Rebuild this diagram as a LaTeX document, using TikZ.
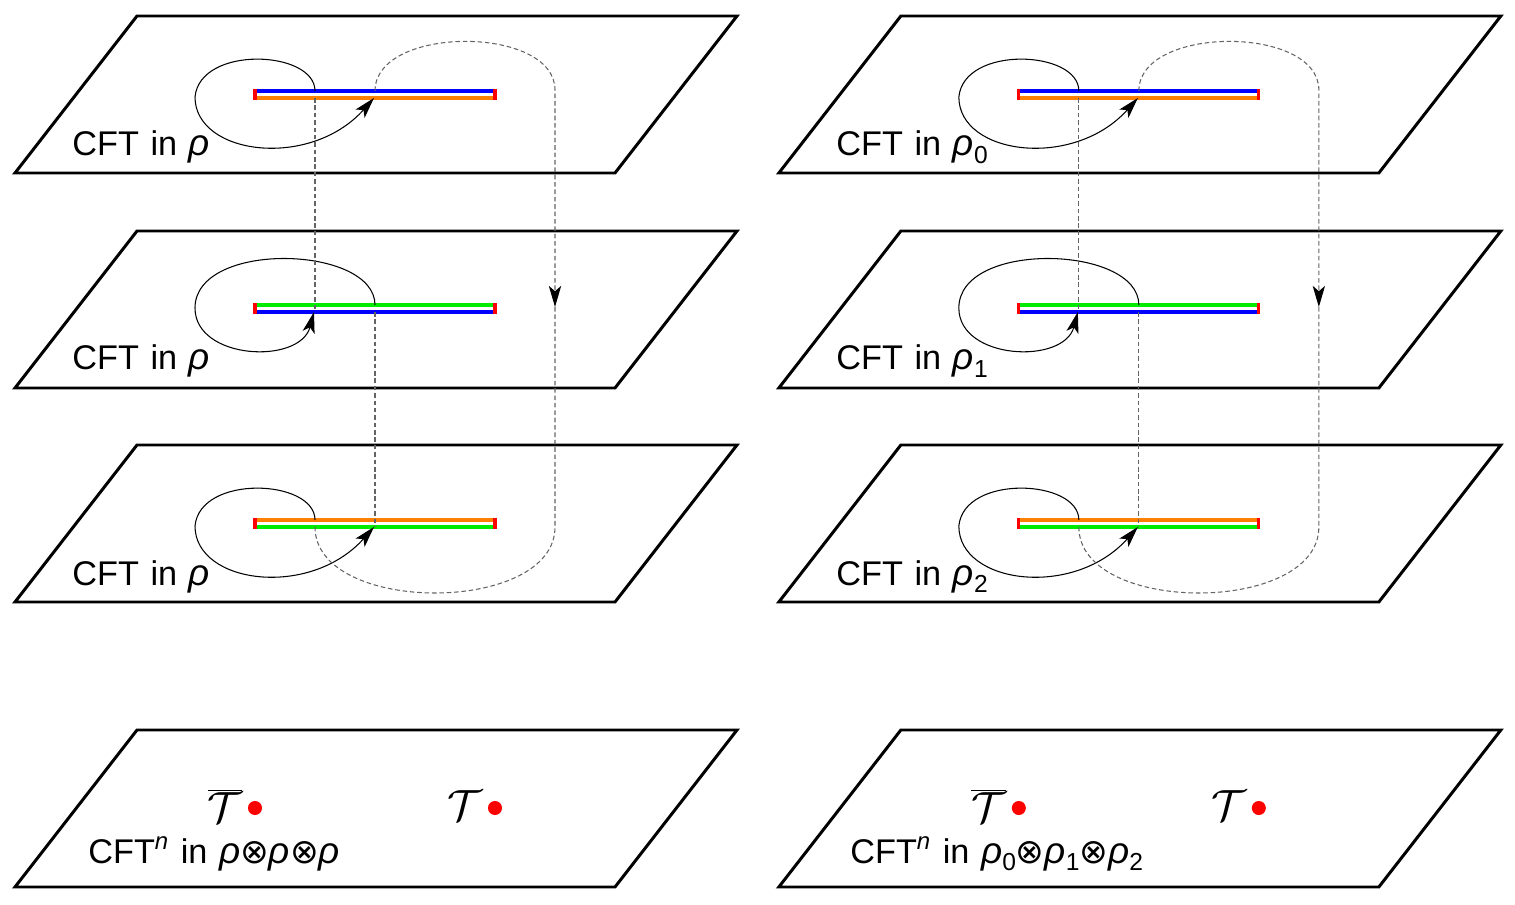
\documentclass[tikz,border=0pt]{standalone}
\usepackage{fontspec}
\setmainfont{Liberation Sans}
\newfontfamily\symfont{DejaVu Sans}
\usetikzlibrary{arrows.meta}
\definecolor{cutblue}{RGB}{0,0,255}
\definecolor{cutorange}{RGB}{255,128,0}
\definecolor{cutgreen}{RGB}{0,235,0}
\definecolor{cutred}{RGB}{255,0,0}
\definecolor{gluegray}{RGB}{100,100,100}
\newcommand\rh{{\fontsize{21}{22}\selectfont\itshape ρ}}
\newcommand\rhoidx[1]{\rh\raisebox{-.4ex}{\fontsize{14}{14}\selectfont #1}}
\newcommand\otim{{\symfont\fontsize{19.5}{22}\selectfont ⊗}}
\begin{document}
\begin{tikzpicture}[x=.02cm,y=-.02cm,
    sheet/.style={line width=1.7pt,line join=miter},
    cutline/.style={line width=1.8pt},
    endcap/.style={line width=1.8pt,draw=cutred},
    loopline/.style={line width=.6pt,-{Stealth[length=12pt,width=7pt,inset=3pt]}},
    gluepath/.style={draw=gluegray,line width=.6pt,dash pattern=on 2.6pt off 1.6pt},
    gluearrow/.style={gluepath,-{Stealth[length=12pt,width=7pt,inset=3pt,color=black]}},
    lbl/.style={anchor=base west,inner sep=0pt,font=\fontsize{19.5}{22}\selectfont,
      execute at begin node={\spaceskip=.34em\relax}},
    twist/.style={inner sep=0pt,font=\fontsize{23}{27}\selectfont}]
  \useasboundingbox (0,0) rectangle (1515,905);
  \foreach \col in {0,1}{
    \begin{scope}[xshift=\col*15.28cm]
      % sheets
      \foreach \ty in {16,231,445,730}
        \draw[sheet] (137,\ty) -- (737,\ty) -- (615,\ty+157) -- (15,\ty+157) -- cycle;
      % branch cuts: upper edge / lower edge
      \foreach \cy/\up/\lo in {91/cutblue/cutorange,305/cutgreen/cutblue,520/cutorange/cutgreen}{
        \draw[cutline,\up] (255,\cy) -- (495,\cy);
        \draw[cutline,\lo] (255,\cy+7) -- (495,\cy+7);
        \draw[endcap] (255,\cy-2) -- (255,\cy+9);
        \draw[endcap] (495,\cy-2) -- (495,\cy+9);
      }
      % loops on each sheet
      \draw[loopline] (315,91) .. controls (315,50) and (200,45) .. (195,97) .. controls (195,155) and (310,170) .. (374,98);
      \draw[loopline] (375,305) .. controls (375,245) and (195,240) .. (195,308) .. controls (195,360) and (300,365) .. (314,312);
      \draw[loopline] (315,520) .. controls (315,479) and (200,474) .. (195,526) .. controls (195,584) and (310,599) .. (374,527);
      % gluing between sheets
      \draw[gluearrow] (375,91) .. controls (375,25) and (555,25) .. (555,90) -- (555,307);
      \draw[gluepath] (555,307) -- (555,527) .. controls (555,615) and (315,615) .. (315,527);
      \draw[gluepath] (315,98) -- (315,312);
      \draw[gluepath] (375,312) -- (375,527);
      % twist fields
      \fill[cutred] (255,808) circle[radius=4pt];
      \fill[cutred] (495,808) circle[radius=4pt];
      \node[twist] (tbar\col) at (225,806) {$\overline{\mathcal{T}}$};
      \node[twist] (t\col) at (465,806) {$\mathcal{T}$};
    \end{scope}}
  \node[lbl] (lone) at (72,156) {CFT in \rh};
  \node[lbl] (ltwo) at (72,370) {CFT in \rh};
  \node[lbl] (lthree) at (72,585) {CFT in \rh};
  \node[lbl] (lprod) at (88,863) {CFT\textsuperscript{\itshape n} in \rh\otim\rh\otim\rh};
  \node[lbl] (rone) at (836,156) {CFT in \rhoidx{0}};
  \node[lbl] (rtwo) at (836,370) {CFT in \rhoidx{1}};
  \node[lbl] (rthree) at (836,585) {CFT in \rhoidx{2}};
  \node[lbl] (rprod) at (850,863) {CFT\textsuperscript{\itshape n} in \rhoidx{0}\otim\rhoidx{1}\otim\rhoidx{2}};
\end{tikzpicture}
\end{document}
